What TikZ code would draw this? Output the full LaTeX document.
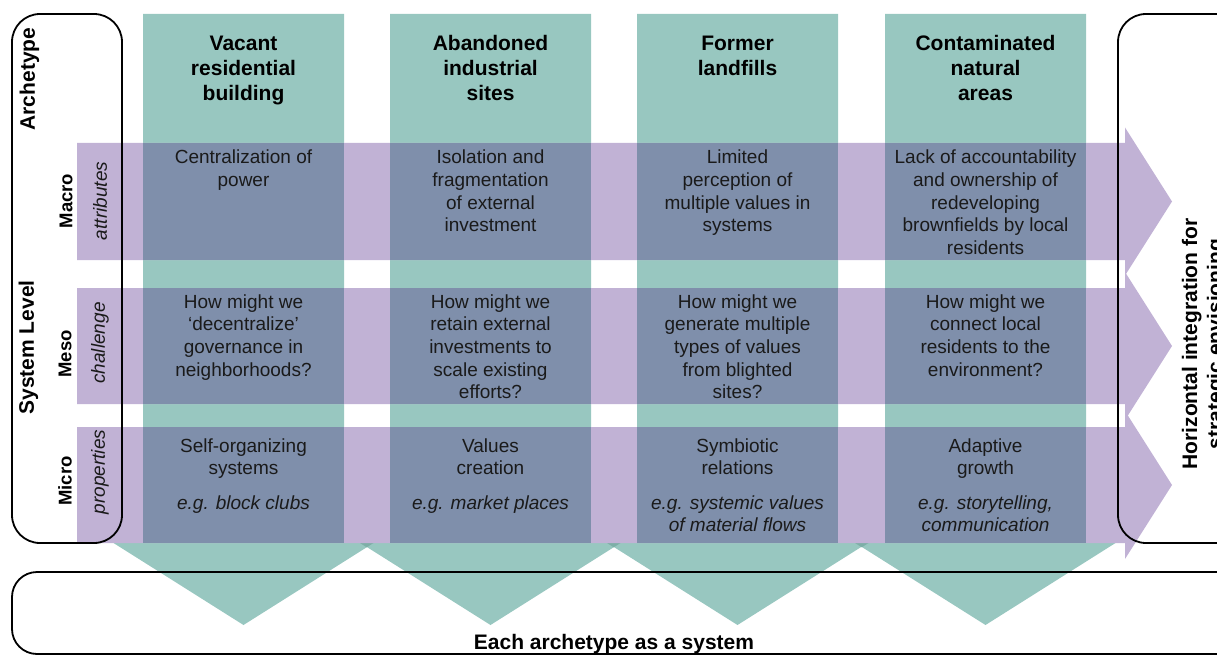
\documentclass[tikz,border=0pt]{standalone}
\usepackage{fontspec}
\setmainfont{Liberation Sans}
\definecolor{colG}{HTML}{98C7C0}
\definecolor{colGd}{HTML}{7DAFA7}
\definecolor{colP}{HTML}{C1B2D5}
\definecolor{colO}{HTML}{7F8FAB}
\definecolor{colT}{HTML}{1A1A1A}
\begin{document}
\begin{tikzpicture}[x=1pt,y=-1pt,
  hdr/.style={anchor=north, align=center, inner sep=0pt, font=\fontsize{21}{25}\selectfont\bfseries, text=black},
  body/.style={anchor=north, align=center, inner sep=0pt, font=\fontsize{19}{22.7}\selectfont, text=colT},
  ex/.style={anchor=north, align=center, inner sep=0pt, font=\fontsize{19}{22.7}\selectfont\itshape, text=colT},
  lvl/.style={rotate=90, inner sep=0pt, font=\fontsize{18.5}{21}\selectfont\bfseries, text=black},
  big/.style={rotate=90, inner sep=0pt, font=\fontsize{21}{25}\selectfont\bfseries, text=black},
  sub/.style={rotate=90, inner sep=0pt, font=\fontsize{19}{22}\selectfont\itshape, text=colT},
  frame/.style={draw=black, line width=1.8pt, rounded corners=28pt}
]
\useasboundingbox (0,0) rectangle (1217,655);
% green columns with downward arrowheads
\foreach \L in {143,390,637,885} {
  \pgfmathsetmacro\R{\L+201}
  \pgfmathsetmacro\C{\L+100.5}
  \fill[colG] (\L,14) -- (\R,14) -- (\R,543) -- (\C+130,543) -- (\C,625) -- (\C-130,543) -- (\L,543) -- cycle;
}
% small overlaps of neighbouring arrowheads
\foreach \L in {390,637,885} {
  \fill[colGd] (\L-30,543) -- (\L-16.5,543) -- (\L-23.25,547.3) -- cycle;
}
% purple rows with right arrowheads
\foreach \t/\b in {143/260, 288/404, 427/543} {
  \pgfmathsetmacro\m{(\t+\b)/2}
  \fill[colP] (77,\t) -- (1125,\t) -- (1125,\m-74) -- (1172,\m) -- (1125,\m+74) -- (1125,\b) -- (77,\b) -- cycle;
}
% overlaps
\foreach \L in {143,390,637,885} {
  \foreach \t/\b in {143/260, 288/404, 427/543} {
    \fill[colO] (\L,\t) rectangle (\L+201,\b);
  }
}
% frames
\draw[frame] (12,14) rectangle (122,543);
\draw[frame] (1118,14) rectangle (1262,543);
\draw[frame, rounded corners=25pt] (12,572) rectangle (1262,654);

% left labels
\node[big] (arch) at (29.5,79) {Archetype};
\node[big] (syslev) at (28.5,347.5) {System Level};
\node[lvl] (macro) at (66,201) {Macro};
\node[sub] (attr) at (100,201) {attributes};
\node[lvl] (meso) at (65,354) {Meso};
\node[sub] (chal) at (100,343) {challenge};
\node[lvl] (micro) at (65,481) {Micro};
\node[sub] (prop) at (100,472) {properties};

% headers
\node[hdr] (h1) at (243.5,32.5) {\strut Vacant\\residential\\building};
\node[hdr] (h2) at (490.5,32.5) {\strut Abandoned\\industrial\\sites};
\node[hdr] (h3) at (737.5,32.5) {\strut Former\\landfills};
\node[hdr] (h4) at (985.5,32.5) {\strut Contaminated\\natural\\areas};

% macro row
\node[body] (a1) at (243.5,147.6) {\strut Centralization of\\power};
\node[body] (a2) at (490.5,147.6) {\strut Isolation and\\fragmentation\\of external\\investment};
\node[body] (a3) at (737.5,147.6) {\strut Limited\\perception of\\multiple values in\\systems};
\node[body] (a4) at (985.5,147.6) {\strut Lack of accountability\\and ownership of\\redeveloping\\brownfields by local\\residents};

% meso row
\node[body] (b1) at (243.5,292.1) {\strut How might we\\‘decentralize’\\governance in\\neighborhoods?};
\node[body] (b2) at (490.5,292.1) {\strut How might we\\retain external\\investments to\\scale existing\\efforts?};
\node[body] (b3) at (737.5,292.1) {\strut How might we\\generate multiple\\types of values\\from blighted\\sites?};
\node[body] (b4) at (985.5,292.1) {\strut How might we\\connect local\\residents to the\\environment?};

% micro row
\node[body] (c1) at (243.5,436.1) {\strut Self-organizing\\systems};
\node[body] (c2) at (490.5,436.1) {\strut Values\\creation};
\node[body] (c3) at (737.5,436.1) {\strut Symbiotic\\relations};
\node[body] (c4) at (985.5,436.1) {\strut Adaptive\\growth};
\node[ex] (e1) at (243.5,493.1) {\strut e.g. block clubs};
\node[ex] (e2) at (490.5,493.1) {\strut e.g. market places};
\node[ex] (e3) at (737.5,493.1) {\strut e.g. systemic values\\of material flows};
\node[ex] (e4) at (985.5,493.1) {\strut e.g. storytelling,\\communication};

% right and bottom labels (cut by the page edge, as in the reference)
\node[big, anchor=north, align=center] (horiz) at (1179.5,344) {\strut Horizontal integration for\\strategic envisioning};
\node[anchor=base, inner sep=0pt, font=\fontsize{21}{25}\selectfont\bfseries] (each) at (614,649) {Each archetype as a system};
\end{tikzpicture}
\end{document}
